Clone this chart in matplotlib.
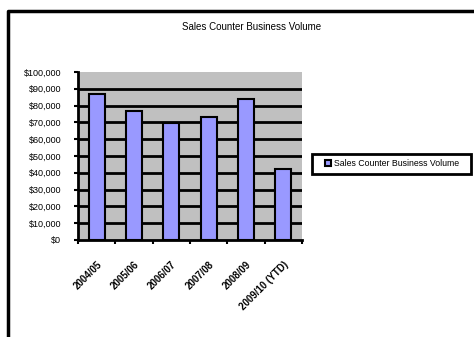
import matplotlib.pyplot as plt
import matplotlib.ticker as mticker
from matplotlib.lines import Line2D
from matplotlib.patches import Rectangle

plt.rcParams['font.family'] = ['Liberation Sans', 'DejaVu Sans']

years = ['2004/05', '2005/06', '2006/07', '2007/08', '2008/09', '2009/10 (YTD)']
volume = [87000, 77000, 69500, 73300, 84000, 42000]
series_name = 'Sales Counter Business Volume'

W, H = 474, 337
fig = plt.figure(figsize=(W / 100, H / 100), dpi=100)

# plot area in pixels: left 78, right 302, top 72, bottom 240
ax = fig.add_axes([78 / W, (H - 240) / H, 224 / W, 168 / H])
ax.set_facecolor('#C0C0C0')

x = range(len(years))
bars = ax.bar(x, volume, width=0.42, color='#9999FF', edgecolor='black',
              linewidth=1.5, label=series_name, zorder=3)

ax.set_xlim(-0.5, len(years) - 0.5)
ax.set_ylim(0, 100000)
ax.set_yticks(range(0, 100001, 10000))
ax.yaxis.set_major_formatter(mticker.FuncFormatter(lambda v, p: '${:,.0f}'.format(v)))
for v in range(10000, 100000, 10000):
    ax.axhline(v, color='black', linewidth=2, zorder=1)

ax.set_xticks(list(x))
ax.set_xticklabels(years, rotation=45, ha='right', va='top', rotation_mode='anchor',
                   fontsize=7, fontweight='bold')
ax.set_xticks([i - 0.5 for i in range(len(years) + 1)], minor=True)
ax.tick_params(axis='x', which='major', length=0, pad=14)
ax.tick_params(axis='x', which='minor', length=3, width=1.5, direction='out')
ax.tick_params(axis='y', length=3, width=1.5, labelsize=6.5, pad=9)

for s in ['top', 'right']:
    ax.spines[s].set_visible(False)
for s in ['left', 'bottom']:
    ax.spines[s].set_linewidth(2)

fig.text(252 / W, 1 - 27 / H, 'Sales Counter Business Volume', ha='center', va='center',
         fontsize=7)

# legend without its own frame, box drawn separately to match the wide padding
fig.legend(handles=[bars], labels=[series_name], loc='center left',
           bbox_to_anchor=(325 / W, 1 - 164 / H), fontsize=6.3, frameon=False,
           handlelength=0.7, handleheight=0.7, handletextpad=0.3,
           borderpad=0, borderaxespad=0)
fig.add_artist(Rectangle((312 / W, 1 - 174 / H), 159 / W, 20 / H, fill=False,
                         edgecolor='black', linewidth=2, transform=fig.transFigure))

# chart border, only top and left visible
fig.add_artist(Line2D([8 / W, 8 / W, 1.0], [0.0, 1 - 11 / H, 1 - 11 / H],
                      color='black', linewidth=2.5, transform=fig.transFigure))

fig.savefig('out.png', dpi=100)
